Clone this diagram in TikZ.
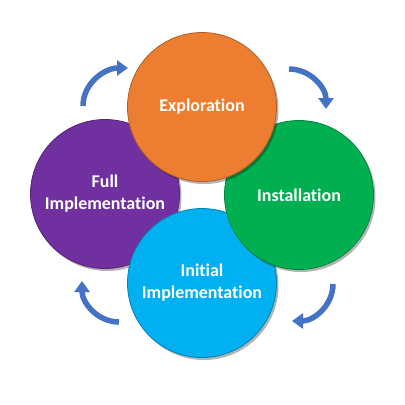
\documentclass[tikz,border=0pt]{standalone}
\usepackage{fontspec}
\setmainfont{Carlito}[Ligatures=NoCommon]
\usetikzlibrary{arrows.meta}
\usetikzlibrary{shadows}
\definecolor{explcol}{HTML}{ED7D31}
\definecolor{instcol}{HTML}{00B050}
\definecolor{initcol}{HTML}{00B0F0}
\definecolor{fullcol}{HTML}{7030A0}
\definecolor{arrcol}{HTML}{4472C4}
\begin{document}
\begin{tikzpicture}[x=1bp,y=-1bp,
szakasz/.style={circle,minimum size=149bp,inner sep=0pt,line width=.8bp,text=white,
font=\fontsize{18}{22}\selectfont\bfseries,align=center,
drop shadow={shadow xshift=2bp,shadow yshift=-2.5bp,opacity=.3,fill=black}},
]
\useasboundingbox (0,0) rectangle (405,405);
\node[szakasz,fill=fullcol,draw=fullcol!75!black](full) at (105,194){Full\\Implementation};
\node[szakasz,fill=initcol,draw=initcol!75!black](init) at (202,283){Initial\\Implementation};
\node[szakasz,fill=instcol,draw=instcol!75!black](inst) at (299,195){Installation};
\node[szakasz,fill=explcol,draw=explcol!75!black](expl) at (202,107){Exploration};
% nyilak a korok kozott
\coordinate(tl-a) at (83,106);
\coordinate(tl-b) at (128,68);
\coordinate(tr-a) at (289,69);
\coordinate(tr-b) at (326,109);
\coordinate(br-a) at (333,284);
\coordinate(br-b) at (292,321);
\coordinate(bl-a) at (119,322);
\coordinate(bl-b) at (82,281);
\begin{scope}[arrcol, line width=5.5bp, -{Triangle[length=11bp,width=15bp]}]
\draw (tl-a) to[out=90,in=180] (tl-b);
\draw (tr-a) to[out=0,in=90] (tr-b);
\draw (br-a) to[out=-90,in=0] (br-b);
\draw (bl-a) to[out=180,in=-90] (bl-b);
\end{scope}
\end{tikzpicture}
\end{document}
